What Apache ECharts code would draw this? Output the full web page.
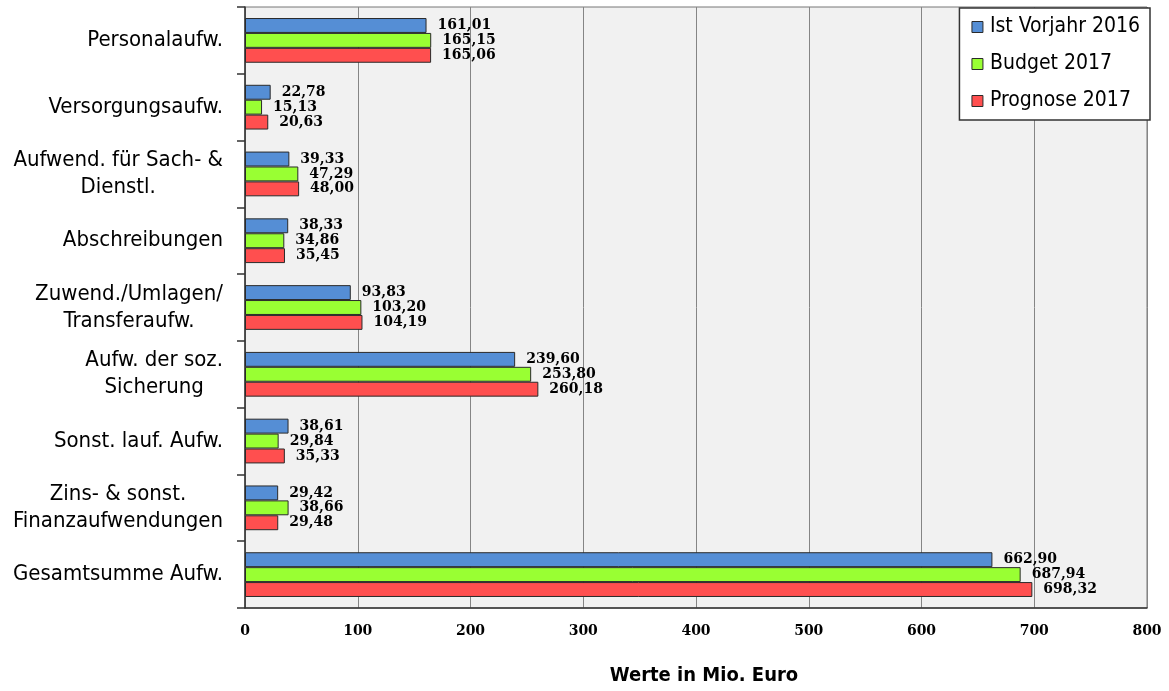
<!DOCTYPE html>
<html>
<head>
<meta charset="utf-8">
<script src="https://cdn.jsdelivr.net/npm/echarts@6/dist/echarts.min.js"></script>
<style>
  html, body { margin: 0; padding: 0; background: #fff; }
  #chart { width: 1169px; height: 691px; }
</style>
</head>
<body>
<div id="chart"></div>
<script>
// Expense categories (top to bottom)
const categories = [
  'Personalaufw.',
  'Versorgungsaufw.',
  'Aufwend. für Sach- &\nDienstl.',
  'Abschreibungen',
  'Zuwend./Umlagen/\nTransferaufw.',
  'Aufw. der soz.\nSicherung',
  'Sonst. lauf. Aufw.',
  'Zins- & sonst.\nFinanzaufwendungen',
  'Gesamtsumme Aufw.'
];

// Values in Mio. Euro
const istVorjahr2016 = [161.01, 22.78, 39.33, 38.33, 93.83, 239.60, 38.61, 29.42, 662.90];
const budget2017     = [165.15, 15.13, 47.29, 34.86, 103.20, 253.80, 29.84, 38.66, 687.94];
const prognose2017   = [165.06, 20.63, 48.00, 35.45, 104.19, 260.18, 35.33, 29.48, 698.32];

const seriesNames = ['Ist Vorjahr 2016', 'Budget 2017', 'Prognose 2017'];
const xTicks = [0, 100, 200, 300, 400, 500, 600, 700, 800];

const colors = ['#558ED5', '#99FF33', '#FF4F4F'];
const sansFont = '"DejaVu Sans Condensed", "DejaVu Sans", sans-serif';
const serifFont = '"DejaVu Serif", serif';

const fmt = v => v.toFixed(2).replace('.', ',');

function makeSeries(name, data, i) {
  return {
    name: name,
    type: 'bar',
    data: data,
    barGap: '0%',
    barCategoryGap: '33%',
    itemStyle: { color: colors[i], borderColor: '#2a2a2a', borderWidth: 1 },
    label: {
      show: true,
      position: 'right',
      distance: 11,
      formatter: p => fmt(p.value),
      fontFamily: serifFont,
      fontWeight: 'bold',
      fontSize: 14,
      color: '#000'
    }
  };
}

const chart = echarts.init(document.getElementById('chart'), null, { renderer: 'canvas' });
chart.setOption({
  animation: false,
  backgroundColor: '#ffffff',
  grid: {
    left: 245, right: 22, top: 7, bottom: 81,
    show: true,
    backgroundColor: '#F1F1F1',
    borderColor: '#777',
    borderWidth: 1
  },
  legend: {
    orient: 'vertical',
    right: 19,
    top: 8,
    data: seriesNames,
    backgroundColor: '#ffffff',
    borderColor: '#333',
    borderWidth: 1.5,
    padding: [8, 10, 8, 12],
    itemGap: 15,
    itemWidth: 11,
    itemHeight: 11,
    icon: 'rect',
    itemStyle: { borderColor: '#2a2a2a', borderWidth: 1 },
    textStyle: { fontFamily: sansFont, fontSize: 21, lineHeight: 22, color: '#000', padding: [0, 0, 0, 2] }
  },
  xAxis: {
    type: 'value',
    min: xTicks[0],
    max: xTicks[xTicks.length - 1],
    interval: 100,
    name: 'Werte in Mio. Euro',
    nameLocation: 'middle',
    nameGap: 58,
    nameTextStyle: { fontFamily: sansFont, fontWeight: 'bold', fontSize: 20, color: '#000', padding: [0, 0, 0, 16] },
    axisLine: { show: true, lineStyle: { color: '#333', width: 1.5 } },
    axisTick: { show: false },
    axisLabel: { fontFamily: serifFont, fontWeight: 'bold', fontSize: 14, color: '#000', margin: 16 },
    splitLine: { show: true, lineStyle: { color: '#858585', width: 1 } }
  },
  yAxis: {
    type: 'category',
    inverse: true,
    data: categories,
    axisLine: { show: true, lineStyle: { color: '#333', width: 1.5 } },
    axisTick: { show: true, length: 8, lineStyle: { color: '#333', width: 1.5 } },
    axisLabel: {
      margin: 22,
      align: 'right',
      lineHeight: 27,
      fontFamily: sansFont,
      fontSize: 22,
      color: '#000',
      formatter: v => v.split('\n').map(l => '{c|' + l + '}').join('\n'),
      rich: { c: { align: 'center', fontFamily: sansFont, fontSize: 22, color: '#000', lineHeight: 27 } }
    },
    splitLine: { show: false }
  },
  series: [
    makeSeries(seriesNames[0], istVorjahr2016, 0),
    makeSeries(seriesNames[1], budget2017, 1),
    makeSeries(seriesNames[2], prognose2017, 2)
  ]
});
</script>
</body>
</html>
